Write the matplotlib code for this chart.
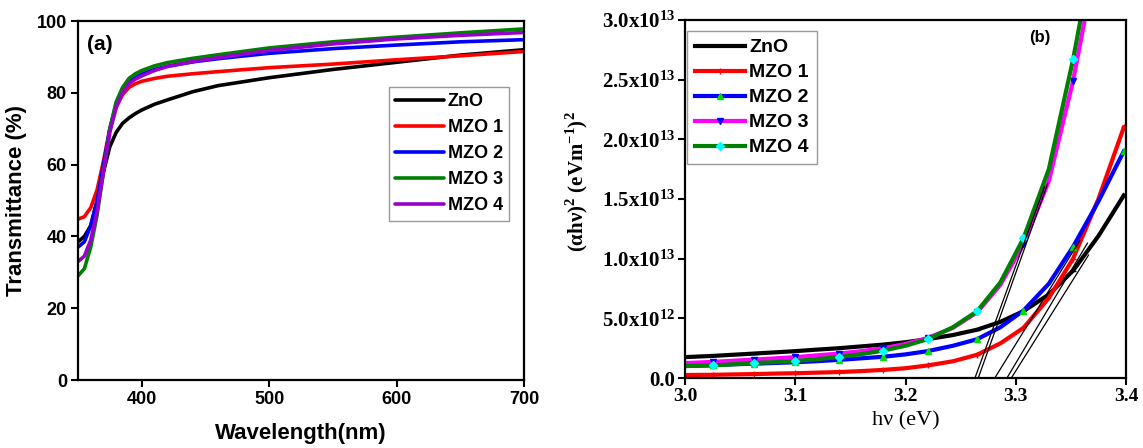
import matplotlib
matplotlib.use("Agg")
import matplotlib.pyplot as plt
from matplotlib.ticker import FixedLocator, FuncFormatter

# ---------------- data: panel (a) ----------------
wavelength = [350, 355, 360, 365, 370, 375, 380, 385, 390, 395, 400, 410, 420, 440,
              460, 500, 550, 600, 650, 700]
t_zno  = [38.5, 40.0, 43.0, 50.0, 58.0, 65.0, 69.0, 71.5, 73.0, 74.2, 75.2, 76.8, 78.0, 80.3,
          82.0, 84.2, 86.5, 88.5, 90.5, 92.0]
t_mzo1 = [44.8, 45.5, 48.0, 53.0, 61.0, 70.0, 76.0, 79.5, 81.5, 82.5, 83.2, 84.0, 84.6, 85.3,
          85.9, 87.0, 88.0, 89.2, 90.3, 91.5]
t_mzo2 = [37.0, 38.5, 43.0, 50.0, 60.0, 70.0, 77.0, 81.0, 83.0, 84.3, 85.2, 86.5, 87.4, 88.6,
          89.5, 91.0, 92.3, 93.3, 94.2, 94.8]
t_mzo3 = [29.0, 31.0, 37.0, 46.0, 58.0, 70.0, 77.5, 81.5, 84.0, 85.3, 86.2, 87.5, 88.4, 89.6,
          90.6, 92.5, 94.2, 95.5, 96.7, 97.8]
t_mzo4 = [33.0, 34.5, 39.0, 47.0, 58.0, 69.0, 76.0, 80.0, 82.5, 83.8, 84.7, 86.2, 87.3, 88.7,
          89.8, 91.8, 93.6, 95.0, 96.0, 96.8]

labels = ["ZnO", "MZO 1", "MZO 2", "MZO 3", "MZO 4"]
colors_a = ["black", "#ff0000", "#0000ff", "#008000", "#9900cc"]

# ---------------- data: panel (b) ----------------
hv = [3.000, 3.025, 3.044, 3.063, 3.082, 3.100, 3.120, 3.140, 3.160, 3.180, 3.200,
      3.220, 3.243, 3.265, 3.286, 3.307, 3.330, 3.352, 3.375, 3.398]
b_zno  = [1.75, 1.85, 1.95, 2.05, 2.15, 2.25, 2.38, 2.50, 2.65, 2.80, 3.00,
          3.25, 3.60, 4.05, 4.70, 5.60, 7.00, 9.00, 11.9, 15.3]
b_mzo1 = [0.25, 0.27, 0.30, 0.33, 0.37, 0.40, 0.45, 0.50, 0.58, 0.68, 0.82,
          1.05, 1.40, 1.95, 2.90, 4.20, 6.70, 10.0, 15.0, 21.0]
b_mzo2 = [1.00, 1.08, 1.15, 1.20, 1.26, 1.32, 1.41, 1.52, 1.65, 1.78, 1.98,
          2.25, 2.70, 3.25, 4.25, 5.65, 7.90, 11.0, 14.8, 19.0]
b_mzo3 = [1.25, 1.35, 1.45, 1.55, 1.65, 1.75, 1.90, 2.05, 2.25, 2.50, 2.85,
          3.35, 4.20, 5.50, 7.80, 11.2, 16.5, 24.9, 36.0, 50.0]
b_mzo4 = [1.00, 1.05, 1.15, 1.26, 1.33, 1.42, 1.58, 1.76, 2.00, 2.30, 2.70,
          3.25, 4.25, 5.60, 8.00, 11.7, 17.5, 26.7, 38.0, 52.0]
scale_b = 1e12

colors_b = ["black", "#ff0000", "#0000ff", "#ff00ff", "#008000"]
markers_b = ["_", "+", "^", "v", "D"]
mcolors_b = ["black", "#ff0000", "#00e000", "#0000ff", "#00ffff"]

# tangent (Tauc) lines: start x, end x, end y (x1e12), all start at y = 0
tan_x0 = [3.263, 3.266, 3.281, 3.292, 3.296]
tan_x1 = [3.326, 3.329, 3.358, 3.365, 3.366]
tan_y1 = [16.0, 16.3, 11.5, 11.3, 10.3]

# ---------------- figure ----------------
SANS = "Liberation Sans"
SERIF = "Liberation Serif"
fig = plt.figure(figsize=(11.43, 4.48), dpi=100)

axA = fig.add_axes([78/1143, 1-380/448, (524-78)/1143, (380-21)/448])
for y, lab, c in zip([t_zno, t_mzo1, t_mzo2, t_mzo3, t_mzo4], labels, colors_a):
    axA.plot(wavelength, y, color=c, lw=2.6, label=lab, solid_capstyle="round")
axA.set_xlim(350, 700)
axA.set_ylim(0, 100)
axA.xaxis.set_major_locator(FixedLocator([400, 500, 600, 700]))
axA.yaxis.set_major_locator(FixedLocator([0, 20, 40, 60, 80, 100]))
axA.tick_params(direction="out", length=5, width=1.5, labelsize=13, pad=3)
for t in axA.get_xticklabels() + axA.get_yticklabels():
    t.set_fontfamily(SANS)
    t.set_fontweight("bold")
for s in axA.spines.values():
    s.set_linewidth(1.6)
axA.set_xlabel("Wavelength(nm)", fontfamily=SANS, fontweight="bold", fontsize=16, labelpad=11)
axA.set_ylabel("Transmittance (%)", fontfamily=SANS, fontweight="bold", fontsize=16, labelpad=7)
axA.text(0.02, 0.935, "(a)", transform=axA.transAxes, fontfamily=SANS, fontweight="bold",
         fontsize=15, va="center", ha="left")
legA = axA.legend(loc="upper left", bbox_to_anchor=(389/1143, 1-87/448), bbox_transform=fig.transFigure,
                  prop={"family": SANS, "weight": "bold", "size": 13}, frameon=True, fancybox=False,
                  edgecolor="#808080", handlelength=2.7, handletextpad=0.2, labelspacing=0.5,
                  borderpad=0.35, borderaxespad=0)
legA.get_frame().set_linewidth(1.0)

axB = fig.add_axes([685/1143, 1-378/448, (1126-685)/1143, (378-20)/448])
series_b = [b_zno, b_mzo1, b_mzo2, b_mzo3, b_mzo4]
for y, lab, c, m, mc in zip(series_b, labels, colors_b, markers_b, mcolors_b):
    axB.plot(hv, [v*scale_b for v in y], color=c, lw=3.0, label=lab, marker=m, markersize=4,
             markerfacecolor=mc, markeredgecolor=mc, markeredgewidth=1.0, markevery=(1, 2))
for x0, x1, y1 in zip(tan_x0, tan_x1, tan_y1):
    axB.plot([x0, x1], [0, y1*scale_b], color="black", lw=0.9)
axB.set_xlim(3.0, 3.4)
axB.set_ylim(0, 3.0e13)
axB.xaxis.set_major_locator(FixedLocator([3.0, 3.1, 3.2, 3.3, 3.4]))
axB.yaxis.set_major_locator(FixedLocator([0, 5e12, 1e13, 1.5e13, 2e13, 2.5e13, 3e13]))

def yfmt(v, pos):
    if v == 0:
        return "0.0"
    e = 0
    m = v
    while m >= 10:
        m /= 10
        e += 1
    return r"$\mathregular{%.1fx10^{%d}}$" % (m, e)

axB.yaxis.set_major_formatter(FuncFormatter(yfmt))
axB.xaxis.set_major_formatter(FuncFormatter(lambda v, p: "%.1f" % v))
axB.tick_params(direction="out", length=5, width=1.5, pad=2)
axB.tick_params(axis="x", labelsize=14)
axB.tick_params(axis="y", labelsize=15)
for t in axB.get_xticklabels() + axB.get_yticklabels():
    t.set_fontfamily(SERIF)
    t.set_fontweight("bold")
for s in axB.spines.values():
    s.set_linewidth(1.6)
axB.set_xlabel("hν (eV)", fontfamily=SERIF, fontsize=16, labelpad=5)
axB.set_ylabel("(αhν)$^\\mathregular{2}$ (eVm$^\\mathregular{-1}$)$^\\mathregular{2}$",
               fontfamily=SERIF, fontweight="bold", fontsize=15)
axB.yaxis.set_label_coords(-0.215, 0.55)
axB.text(0.78, 0.95, "(b)", transform=axB.transAxes, fontfamily=SANS, fontweight="bold",
         fontsize=12, va="center", ha="left")
legB = axB.legend(loc="upper left", bbox_to_anchor=(687/1143, 1-31/448), bbox_transform=fig.transFigure,
                  prop={"family": SANS, "weight": "bold", "size": 14}, frameon=True, fancybox=False,
                  edgecolor="#808080", handlelength=2.6, handletextpad=0.2, labelspacing=0.38,
                  borderpad=0.4, borderaxespad=0, markerscale=1.0)
legB.get_frame().set_linewidth(1.0)

fig.savefig("out.png", dpi=100)
